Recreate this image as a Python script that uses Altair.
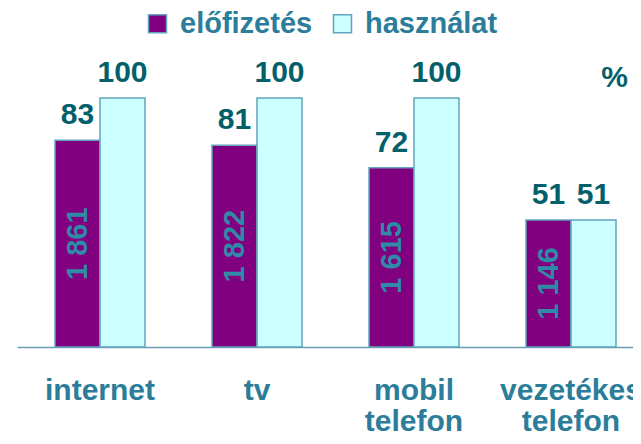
import altair as alt
import pandas as pd

categories = ["internet", "tv", "mobil telefon", "vezetékes telefon"]
elofizetes = [83, 81, 72, 51]
hasznalat = [100, 100, 100, 51]
elofizetes_db = ["1 861", "1 822", "1 615", "1 146"]
series = ["előfizetés", "használat"]
colors = ["#800080", "#CCFFFF"]

rows = []
for c, e, h, n in zip(categories, elofizetes, hasznalat, elofizetes_db):
    rows.append({"kat": c, "sorozat": series[0], "ertek": e, "db": n})
    rows.append({"kat": c, "sorozat": series[1], "ertek": h, "db": ""})
df = pd.DataFrame(rows)

FONT = "Liberation Sans"
NUM_COLOR = "#03606a"
LABEL_COLOR = "#2b7d9a"
EDGE = "#62a3bd"

yaxis = alt.Axis(
    orient="right", domain=False, ticks=False, labels=False, grid=False,
    title="%", titleAngle=0, titleX=-19, titleY=-12, titleAlign="center",
    titleBaseline="alphabetic", titleFont=FONT, titleFontSize=30,
    titleFontWeight="bold", titleColor=NUM_COLOR,
)
yscale = alt.Scale(domain=[0, 100], nice=False)

base = alt.Chart(df).encode(
    x=alt.X(
        "kat:N", sort=categories,
        scale=alt.Scale(paddingInner=0.4268, paddingOuter=0.1752, align=0.691),
        axis=alt.Axis(
            title=None, labelExpr="split(datum.label, ' ')", labelAngle=0,
            ticks=False, tickSize=0, grid=False, domainColor="#6a9db5",
            domainWidth=1.5, labelFont=FONT, labelFontSize=30,
            labelFontWeight="bold", labelColor=LABEL_COLOR, labelPadding=28,
            labelLineHeight=31, labelBaseline="top", labelOverlap=False,
            labelLimit=400,
        ),
    ),
    xOffset=alt.XOffset("sorozat:N", sort=series),
)

bars = base.mark_bar(stroke=EDGE, strokeWidth=1.5).encode(
    y=alt.Y("ertek:Q", scale=yscale, axis=yaxis),
    color=alt.Color(
        "sorozat:N", sort=series,
        scale=alt.Scale(domain=series, range=colors),
        legend=alt.Legend(
            title=None, orient="none", legendX=126, legendY=-89,
            direction="horizontal", symbolType="square", symbolSize=324,
            symbolStrokeColor=EDGE, symbolStrokeWidth=1.5, symbolOpacity=1,
            labelFont=FONT, labelFontSize=29, labelFontWeight="bold",
            labelColor=LABEL_COLOR, labelOffset=8, columnPadding=15,
            labelLimit=400, padding=0,
        ),
    ),
)

labels = base.mark_text(
    font=FONT, fontSize=30, fontWeight="bold", color=NUM_COLOR,
    baseline="alphabetic", dy=-16,
).encode(
    y=alt.Y("ertek:Q", scale=yscale, axis=yaxis),
    text="ertek:Q",
)

inner = base.transform_filter(
    alt.datum.sorozat == series[0]
).transform_calculate(
    mid="datum.ertek / 2"
).mark_text(
    font=FONT, fontSize=29, fontWeight="bold", color="#2f8aa8",
    angle=270, align="center", baseline="middle",
).encode(
    y=alt.Y("mid:Q", scale=yscale, axis=yaxis),
    text="db:N",
)

chart = alt.layer(bars, labels, inner).properties(
    width=616, height=249,
    padding={"left": 9, "top": 90, "right": 0, "bottom": 84},
    autosize=alt.AutoSizeParams(type="none"),
    background="white",
).configure_view(stroke="transparent")

chart.save("out.html", embed_options={"renderer": "svg", "actions": False})
